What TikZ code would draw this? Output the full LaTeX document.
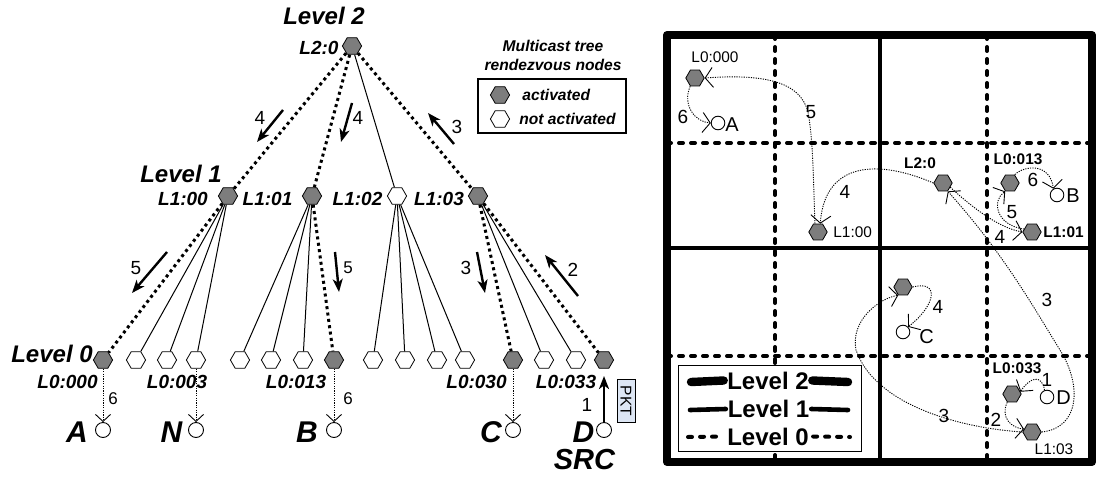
\documentclass[tikz,border=0pt]{standalone}
\usepackage{fontspec}
\setmainfont{Liberation Sans}
\usetikzlibrary{shapes.geometric,arrows.meta}

\definecolor{hexgray}{RGB}{125,125,125}
\definecolor{pktblue}{RGB}{221,230,244}

\begin{document}
\begin{tikzpicture}[x=0.5pt,y=-0.5pt,
  hexa/.style={regular polygon,regular polygon sides=6,minimum size=9.6pt,inner sep=0pt,draw,line width=0.4pt},
  act/.style={hexa,fill=hexgray},
  idle/.style={hexa,fill=white},
  endpt/.style={circle,draw,fill=white,minimum size=7.5pt,inner sep=0pt,line width=0.45pt},
  txt/.style={inner sep=0pt},
  lvltxt/.style={txt,font=\fontsize{12}{14}\selectfont\bfseries\itshape},
  addr/.style={txt,font=\fontsize{9.5}{11}\selectfont\bfseries\itshape},
  host/.style={txt,font=\fontsize{15}{17}\selectfont\bfseries\itshape},
  num/.style={txt,font=\fontsize{9.5}{11}\selectfont},
  smallnum/.style={txt,font=\fontsize{8.5}{10}\selectfont},
  keytxt/.style={txt,font=\fontsize{7.8}{9}\selectfont\bfseries\itshape},
  treelink/.style={line width=0.5pt},
  pathlink/.style={line width=1.5pt,dash pattern=on 1.5pt off 1.7pt},
  flow/.style={line width=1.2pt,-{Stealth[length=6.5pt,width=5pt,inset=1.8pt]}},
  deliver/.style={line width=0.45pt,dash pattern=on 0.6pt off 0.6pt,-{Straight Barb[length=3.5pt,width=7.5pt]}},
  rhex/.style={act,minimum size=9.2pt},
  rcirc/.style={endpt,minimum size=6.8pt},
  raddr/.style={txt,font=\fontsize{7.7}{9}\selectfont},
  raddrb/.style={txt,font=\fontsize{7.7}{9}\selectfont\bfseries},
  rhost/.style={txt,font=\fontsize{10}{12}\selectfont},
  rnum/.style={txt,font=\fontsize{9.5}{11}\selectfont},
  route/.style={line width=0.45pt,dash pattern=on 0.6pt off 0.6pt,-{Straight Barb[length=3.8pt,width=10pt]}},
  grid2/.style={line width=4pt,line join=round},
  grid1/.style={line width=2.3pt},
  grid0/.style={line width=2pt,dash pattern=on 2pt off 4pt,line cap=round},
  keylvl/.style={txt,font=\fontsize{12}{14}\selectfont\bfseries},
]
\useasboundingbox (0,0) rectangle (1096,476);

%% ---------------- hierarchical tree ----------------
% level 2
\node[lvltxt] (lv2) at (324,16) {Level 2};
\node[act] (n2) at (352,46) {};
\node[addr] (n2l) at (319,47.5) {L2:0};

% level 1
\node[lvltxt] (lv1) at (181,174) {Level 1};
\node[act]  (n100) at (228,196) {};
\node[act]  (n101) at (312,196) {};
\node[idle] (n102) at (397,196) {};
\node[act]  (n103) at (478,196) {};
\node[addr] (n100l) at (183,199) {L1:00};
\node[addr] (n101l) at (267.5,199) {L1:01};
\node[addr] (n102l) at (357.5,199) {L1:02};
\node[addr] (n103l) at (439,199) {L1:03};

% level 0
\node[lvltxt] (lv0) at (52,354) {Level 0};
\node[act]  (n000) at (103,360) {};
\node[idle] (n001) at (136,360) {};
\node[idle] (n002) at (167,360) {};
\node[idle] (n003) at (196,360) {};
\node[idle] (n010) at (240,360) {};
\node[idle] (n011) at (271,360) {};
\node[idle] (n012) at (303,360) {};
\node[act]  (n013) at (334,360) {};
\node[idle] (n020) at (373,360) {};
\node[idle] (n021) at (405,360) {};
\node[idle] (n022) at (437,360) {};
\node[idle] (n023) at (465,360) {};
\node[act]  (n030) at (513,360) {};
\node[idle] (n031) at (544,360) {};
\node[idle] (n032) at (576,360) {};
\node[act]  (n033) at (604,360) {};
\node[addr] (n000l) at (67.5,382) {L0:000};
\node[addr] (n003l) at (177,382) {L0:003};
\node[addr] (n013l) at (296,382) {L0:013};
\node[addr] (n030l) at (476.5,382) {L0:030};
\node[addr] (n033l) at (566,382) {L0:033};

% end hosts
\node[endpt] (hA) at (103,430) {};
\node[endpt] (hN) at (196,430) {};
\node[endpt] (hB) at (334,430) {};
\node[endpt] (hC) at (513,430) {};
\node[endpt] (hD) at (604,430) {};
\node[host] (hAl) at (77,432) {A};
\node[host] (hNl) at (171.5,432) {N};
\node[host] (hBl) at (307,432) {B};
\node[host] (hCl) at (491,432) {C};
\node[host] (hDl) at (583.5,432) {D};
\node[host,font=\fontsize{14.5}{16}\selectfont\bfseries\itshape] (src) at (584.5,460) {SRC};

% tree links
\draw[treelink] (n2) -- (n102);
\draw[pathlink] (n2) -- (n100);
\draw[pathlink] (n2) -- (n101);
\draw[pathlink] (n2) -- (n103);

\draw[pathlink] (n100) -- (n000);
\draw[treelink] (n100) -- (n001);
\draw[treelink] (n100) -- (n002);
\draw[treelink] (n100) -- (n003);

\draw[treelink] (n101) -- (n010);
\draw[treelink] (n101) -- (n011);
\draw[treelink] (n101) -- (n012);
\draw[pathlink] (n101) -- (n013);

\draw[treelink] (n102) -- (n020);
\draw[treelink] (n102) -- (n021);
\draw[treelink] (n102) -- (n022);
\draw[treelink] (n102) -- (n023);

\draw[pathlink] (n103) -- (n030);
\draw[treelink] (n103) -- (n031);
\draw[treelink] (n103) -- (n032);
\draw[pathlink] (n103) -- (n033);

% delivery to receivers
\draw[deliver] (n000) -- (hA);
\draw[deliver] (n003) -- (hN);
\draw[deliver] (n013) -- (hB);
\draw[deliver] (n030) -- (hC);

% packet flow steps
\coordinate (f4a) at (283,110); \coordinate (f4b) at (257,142);
\coordinate (g4a) at (352,103); \coordinate (g4b) at (341,142);
\coordinate (f3a) at (454,144); \coordinate (f3b) at (428,113);
\coordinate (f5a) at (167,252); \coordinate (f5b) at (132,293);
\coordinate (g5a) at (335,252); \coordinate (g5b) at (339,292);
\coordinate (g3a) at (477,252); \coordinate (g3b) at (485,293);
\coordinate (f2a) at (578,296); \coordinate (f2b) at (545,255);
\coordinate (f1b) at (604,376);
\draw[flow] (f4a) -- (f4b);
\draw[flow] (g4a) -- (g4b);
\draw[flow] (f3a) -- (f3b);
\draw[flow] (f5a) -- (f5b);
\draw[flow] (g5a) -- (g5b);
\draw[flow] (g3a) -- (g3b);
\draw[flow] (f2a) -- (f2b);
\draw[flow] (hD) -- (f1b);

\node[num] (s4a) at (260,118) {4};
\node[num] (s4b) at (358,118) {4};
\node[num] (s3a) at (457,127) {3};
\node[num] (s5a) at (136,268) {5};
\node[smallnum] (s5b) at (348,268) {5};
\node[num] (s3b) at (466,268) {3};
\node[num] (s2) at (573,270) {2};
\node[num] (s1) at (587,405) {1};
\node[smallnum] (s6a) at (113,399) {6};
\node[smallnum] (s6b) at (348,399) {6};

\node[draw,fill=pktblue,line width=0.4pt,rotate=-90,inner sep=0pt,minimum width=21.5pt,minimum height=9pt,font=\fontsize{7.8}{9}\selectfont] (pkt) at (626,401) {PKT};

% key
\node[keytxt] (kt1) at (553,46) {Multicast tree};
\node[keytxt] (kt2) at (553,65) {rendezvous nodes};
\draw[line width=0.6pt] (478,79) rectangle (626,133);
\node[act] (ka) at (500,95) {};
\node[keytxt,anchor=west] (kat) at (522,95) {activated};
\node[idle] (kn) at (500,119) {};
\node[keytxt,anchor=west] (knt) at (519,119) {not activated};

%% ---------------- area hierarchy ----------------
\draw[grid0] (775,35) -- (775,462);
\draw[grid0] (987,35) -- (987,462);
\draw[grid0] (667,143) -- (1092,143);
\draw[grid0] (667,356) -- (1092,356);
\draw[grid1] (880,35) -- (880,462);
\draw[grid1] (667,248) -- (1092,248);
\draw[grid2] (667,35) rectangle (1092,462);

% key
\draw[line width=0.5pt,fill=white] (678,365) rectangle (861,451);
\node[keylvl] (k2) at (768,380.5) {Level 2};
\node[keylvl] (k1) at (768.5,409) {Level 1};
\node[keylvl] (k0) at (768,436.5) {Level 0};
\draw[line width=4.2pt,line cap=round] (691,382) -- ([xshift=-1.6pt]k2.west);
\draw[line width=4.2pt,line cap=round] ([xshift=1.6pt]k2.east) -- (848,382);
\draw[line width=2.3pt,line cap=round] (690,410) -- ([xshift=-0.8pt]k1.west);
\draw[line width=2.3pt,line cap=round] ([xshift=0.8pt]k1.east) -- (848,410);
\draw[grid0] (688,437) -- ([xshift=-2pt]k0.west);
\draw[grid0] ([xshift=2pt]k0.east) -- (850,437);

% rendezvous points and hosts
\node[rhex] (r000) at (695,78) {};
\node[raddr] (r000l) at (715,57) {L0:000};
\node[rcirc] (ra) at (718,123) {};
\node[rhost,anchor=west] (ral) at (725,125) {A};
\node[rhex] (r100) at (818,232) {};
\node[raddr,anchor=west] (r100l) at (833,232) {L1:00};
\node[rhex] (r20) at (943,183) {};
\node[raddrb] (r20l) at (920,163) {L2:0};
\node[rhex] (r013) at (1010,183) {};
\node[raddrb] (r013l) at (1018,159) {L0:013};
\node[rcirc] (rb) at (1057,195) {};
\node[rhost,anchor=west] (rbl) at (1066,196) {B};
\node[rhex] (r101) at (1032,232) {};
\node[raddrb,anchor=west] (r101l) at (1043,232) {L1:01};
\node[rhex] (r030) at (903,287) {};
\node[rcirc] (rc) at (903,332) {};
\node[rhost,anchor=west] (rcl) at (919,337) {C};
\node[rhex] (r033) at (1012,394) {};
\node[raddrb] (r033l) at (1017,368) {L0:033};
\node[rcirc] (rd) at (1047,397) {};
\node[rhost,anchor=west] (rdl) at (1056,398) {D};
\node[rhex] (r103) at (1032,432) {};
\node[raddr] (r103l) at (1054,449) {L1:03};

% routes
\draw[route] (rd.110) .. controls (1042,374) and (1030,377) .. (r033.15);
\draw[route] (r033.-120) .. controls (1000,418) and (1012,428) .. (r103.160);
\draw[route] (r103.east) .. controls (1080,428) and (1082,385) .. (1060,350)
             .. controls (1035,310) and (1005,255) .. (r20.-60);
\draw[route] (r103.west) .. controls (960,428) and (875,405) .. (856,350)
             .. controls (850,320) and (880,298) .. (r030.-120);
\draw[route] (r030.east) .. controls (940,280) and (936,305) .. (rc.45);
\draw[route] (r20.-30) .. controls (975,210) and (1000,228) .. (r101.west);
\draw[route] (r20.west) .. controls (880,160) and (825,160) .. (r100.75);
\draw[route] (r101.160) .. controls (995,225) and (992,200) .. (r013.-120);
\draw[route] (r013.60) .. controls (1025,165) and (1050,163) .. (rb.120);
\draw[route] (r100.110) .. controls (813,170) and (813,140) .. (808,112)
             .. controls (800,80) and (760,74) .. (r000.east);
\draw[route] (r000.-120) .. controls (682,105) and (695,122) .. (ra.west);

\node[rnum] (t6a) at (683,117) {6};
\node[rnum] (t5a) at (811,112) {5};
\node[rnum] (t4a) at (845,192) {4};
\node[rnum] (t6b) at (1033,180) {6};
\node[rnum] (t5b) at (1012,212) {5};
\node[rnum] (t4b) at (1000,237) {4};
\node[rnum] (t4c) at (938,307) {4};
\node[rnum] (t3a) at (1047,300) {3};
\node[rnum] (t3b) at (944,416) {3};
\node[rnum] (t1) at (1047,380) {1};
\node[rnum] (t2) at (996,420) {2};
\end{tikzpicture}
\end{document}
